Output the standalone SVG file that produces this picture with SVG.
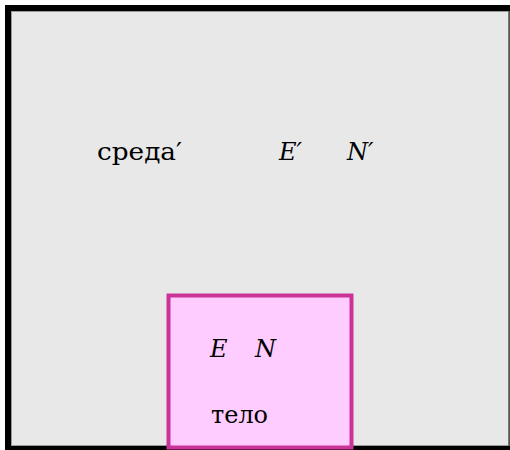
<svg xmlns="http://www.w3.org/2000/svg" width="510" height="450" viewBox="0 0 510 450">
<style>
.t{font-family:'DejaVu Serif','Liberation Serif',serif;font-size:24px;fill:#000}
.i{font-style:italic}
</style>
<rect x="0" y="0" width="510" height="450" fill="#ffffff"/>
<g id="env">
<rect x="5" y="5" width="520" height="460" fill="#000"/>
<rect x="11.5" y="11.5" width="497" height="434" fill="#e8e8e8" stroke="#9a9a9a" stroke-width="1"/>
<rect x="508.5" y="11" width="1.5" height="435" fill="#555"/>
<text class="t" x="97" y="160" textLength="85" lengthAdjust="spacingAndGlyphs">среда′</text>
<text class="t i" x="279" y="160">E′</text>
<text class="t i" x="347" y="160">N′</text>
</g>
<g id="body">
<rect x="168.5" y="295.5" width="183" height="152" fill="#ffccff" stroke="#cc3399" stroke-width="4"/>
<text class="t i" x="210" y="357">E</text>
<text class="t i" x="255" y="357">N</text>
<text class="t" x="211" y="423" textLength="57" lengthAdjust="spacingAndGlyphs">тело</text>
</g>
<g id="connectors"/>
</svg>
